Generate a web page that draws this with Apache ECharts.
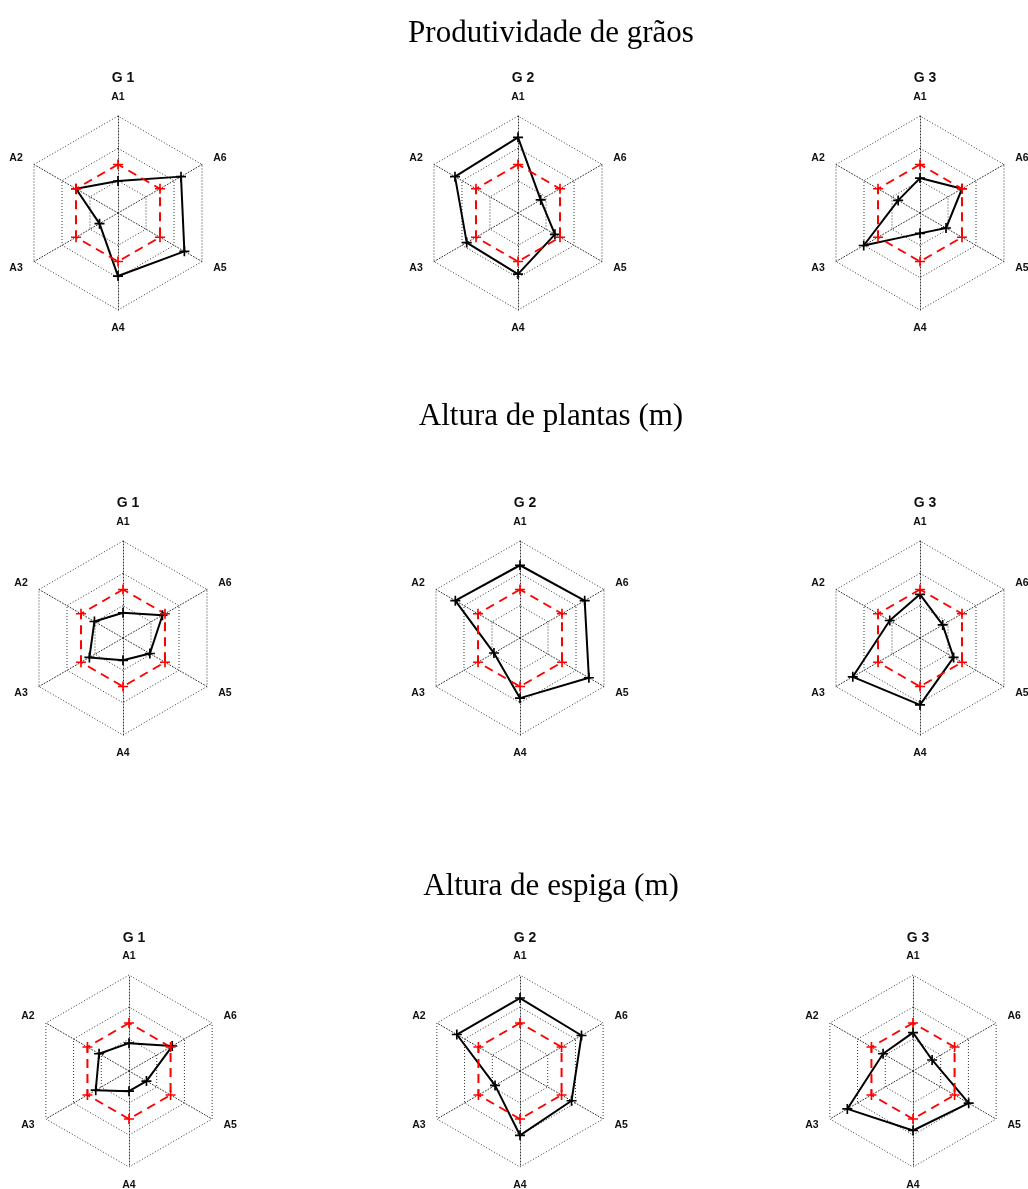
<!DOCTYPE html>
<html>
<head>
<meta charset="utf-8">
<script src="https://cdn.jsdelivr.net/npm/echarts@6/dist/echarts.min.js"></script>
<style>
html,body{margin:0;padding:0;background:#fff;}
#chart{width:1028px;height:1189px;}
</style>
</head>
<body>
<div id="chart"></div>
<script>
// ---- data ----
const axes = ['A1', 'A2', 'A3', 'A4', 'A5', 'A6'];
const sectionTitles = ['Produtividade de grãos', 'Altura de plantas (m)', 'Altura de espiga (m)'];
const groupNames = ['G 1', 'G 2', 'G 3'];
const referenceValues = [0.5, 0.5, 0.5, 0.5, 0.5, 0.5];

const prodG1 = [0.33, 0.50, 0.22, 0.65, 0.79, 0.75];
const prodG2 = [0.78, 0.75, 0.61, 0.63, 0.44, 0.27];
const prodG3 = [0.36, 0.26, 0.67, 0.21, 0.31, 0.50];
const altG1 = [0.26, 0.34, 0.40, 0.23, 0.32, 0.47];
const altG2 = [0.75, 0.77, 0.31, 0.62, 0.82, 0.77];
const altG3 = [0.45, 0.36, 0.80, 0.69, 0.40, 0.27];
const espG1 = [0.29, 0.36, 0.40, 0.21, 0.21, 0.52];
const espG2 = [0.76, 0.76, 0.30, 0.67, 0.62, 0.74];
const espG3 = [0.40, 0.36, 0.79, 0.62, 0.67, 0.23];

const panels = [prodG1, prodG2, prodG3, altG1, altG2, altG3, espG1, espG2, espG3];

// ---- layout ----
const centers = [
  [118, 213], [518, 213], [920, 213],
  [123, 638], [520, 638], [920, 638],
  [129, 1071], [520, 1071], [913, 1071]
];
const radii = [97, 97, 97, 97, 97, 97, 96, 96, 96];
const sectionTop = [13, 396, 866];
const groupTitleTop = [66, 491, 926];

const plus = 'path://M5,0h2v5h5v2h-5v5h-2v-5h-5v-2h5z';
const gridLine = { color: '#333', type: [1, 2], width: 1 };

const titles = [];
sectionTitles.forEach((t, i) => {
  titles.push({
    text: t, left: 546, top: sectionTop[i], textAlign: 'center',
    textStyle: { fontFamily: 'Liberation Serif', fontSize: 31, fontWeight: 'normal', color: '#000' }
  });
});
centers.forEach((c, i) => {
  titles.push({
    text: groupNames[i % 3], left: c[0], top: groupTitleTop[Math.floor(i / 3)], textAlign: 'center',
    textStyle: { fontFamily: 'Liberation Sans', fontSize: 14, fontWeight: 'bold', color: '#111' }
  });
});

const radars = centers.map((c, i) => ({
  center: c,
  radius: radii[i],
  startAngle: 90,
  shape: 'polygon',
  splitNumber: 3,
  nameGap: 13,
  indicator: axes.map(a => ({ name: a, min: 0, max: 1 })),
  axisName: { color: '#111', fontFamily: 'Liberation Sans', fontSize: 10.5, fontWeight: 'bold' },
  axisLine: { lineStyle: gridLine },
  splitLine: { lineStyle: gridLine },
  splitArea: { show: false },
  axisTick: { show: false },
  axisLabel: { show: false }
}));

const series = panels.map((vals, i) => ({
  type: 'radar',
  radarIndex: i,
  silent: true,
  symbol: plus,
  symbolSize: 10,
  emphasis: { disabled: true },
  data: [
    {
      value: vals,
      lineStyle: { color: '#000', width: 2, type: 'solid' },
      itemStyle: { color: '#000' }
    },
    {
      value: referenceValues,
      lineStyle: { color: '#ff0000', width: 2, type: [9, 6] },
      itemStyle: { color: '#ff0000' }
    }
  ]
}));

const chart = echarts.init(document.getElementById('chart'), null, { renderer: 'canvas' });
chart.setOption({
  backgroundColor: '#ffffff',
  animation: false,
  title: titles,
  radar: radars,
  series: series
});
</script>
</body>
</html>
